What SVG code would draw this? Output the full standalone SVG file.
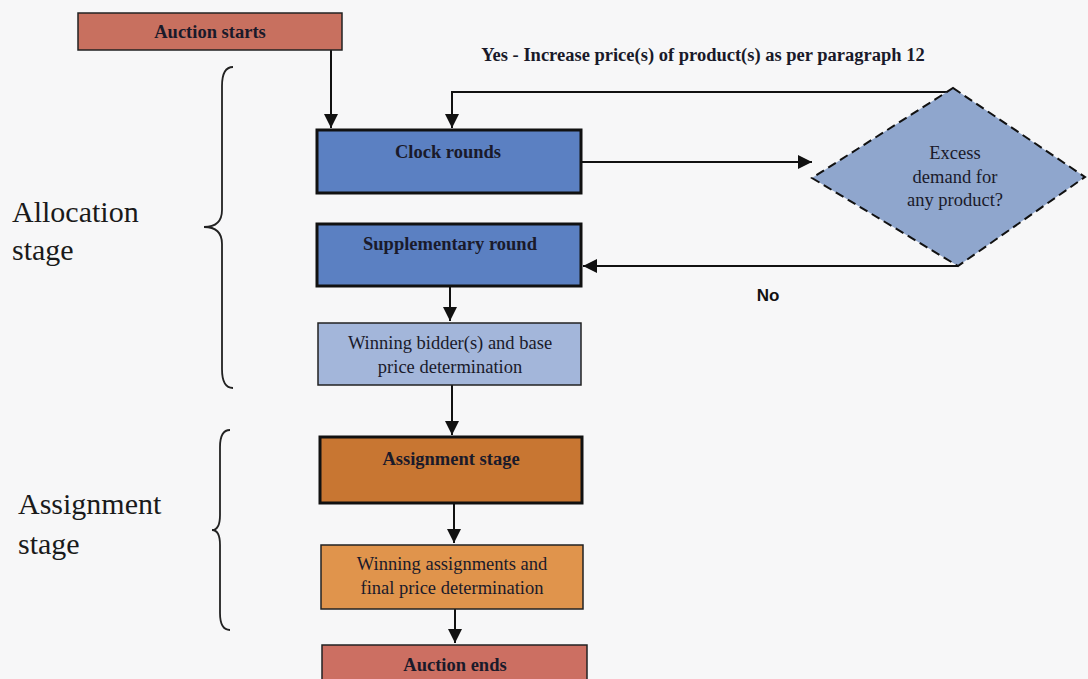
<svg xmlns="http://www.w3.org/2000/svg" width="1088" height="679" viewBox="0 0 1088 679">
<style>
.t{font-family:"Liberation Serif","Times New Roman",serif;fill:#1a1a2a;text-anchor:middle}
.b{font-weight:bold;font-size:18.5px}
.n{font-size:18.5px}
.big{font-family:"Liberation Serif","Times New Roman",serif;font-size:30px;fill:#1a1a1a}
.thick{stroke:#111;stroke-width:3}
.thin{stroke:#222;stroke-width:1.5}
.c{fill:none;stroke:#111;stroke-width:2}
.br{fill:none;stroke:#222;stroke-width:1.8}
</style>
<defs>
<marker id="ah2" viewBox="0 0 10 10" refX="10" refY="5" markerWidth="14" markerHeight="14" markerUnits="userSpaceOnUse" orient="auto">
<path d="M0,0 L10,5 L0,10 z" fill="#111"/>
</marker>
</defs>
<rect width="1088" height="679" fill="#f7f7f8"/>

<g id="connectors">
<path class="c" d="M331,50 V128" marker-end="url(#ah2)"/>
<path class="c" d="M951,92 H452 V128" marker-end="url(#ah2)"/>
<path class="c" d="M581,162 H812" marker-end="url(#ah2)"/>
<path class="c" d="M958,266 H583" marker-end="url(#ah2)"/>
<path class="c" d="M450,287 V321" marker-end="url(#ah2)"/>
<path class="c" d="M452,385 V435" marker-end="url(#ah2)"/>
<path class="c" d="M454,504 V543" marker-end="url(#ah2)"/>
<path class="c" d="M455,609 V643" marker-end="url(#ah2)"/>
<text class="t b" x="703" y="61">Yes - Increase price(s) of product(s) as per paragraph 12</text>
<text x="768" y="301" font-family="Liberation Sans, Arial, sans-serif" font-weight="bold" font-size="17" fill="#111" text-anchor="middle">No</text>
</g>

<g id="auction-starts">
<rect x="78" y="13" width="264" height="37" fill="#c8705f" class="thin"/>
<text class="t b" x="210" y="38">Auction starts</text>
</g>

<g id="clock-rounds">
<rect x="317" y="130" width="264" height="63" fill="#5b80c2" class="thick"/>
<text class="t b" x="448" y="158">Clock rounds</text>
</g>

<g id="supplementary-round">
<rect x="317" y="224" width="264" height="62" fill="#5b80c2" class="thick"/>
<text class="t b" x="450" y="250">Supplementary round</text>
</g>

<g id="winning-bidders">
<rect x="318" y="323" width="263" height="62" fill="#a3b6da" class="thin"/>
<text class="t n" x="450" y="349">Winning bidder(s) and base</text>
<text class="t n" x="450" y="373">price determination</text>
</g>

<g id="assignment-stage">
<rect x="320" y="437" width="262" height="66" fill="#c87632" class="thick"/>
<text class="t b" x="451" y="465">Assignment stage</text>
</g>

<g id="winning-assignments">
<rect x="321" y="545" width="262" height="64" fill="#e0944c" class="thin"/>
<text class="t n" x="452" y="570">Winning assignments and</text>
<text class="t n" x="452" y="594">final price determination</text>
</g>

<g id="auction-ends">
<rect x="322" y="645" width="265" height="40" fill="#cc6f62" class="thin"/>
<text class="t b" x="455" y="671">Auction ends</text>
</g>

<g id="excess-demand">
<polygon points="953,88 1085,177 958,266 812,178" fill="#8fa6cd" stroke="#111" stroke-width="2" stroke-dasharray="9,5"/>
<text class="t n" x="955" y="159">Excess</text>
<text class="t n" x="955" y="183">demand for</text>
<text class="t n" x="955" y="206">any product?</text>
</g>

<g id="allocation-label">
<path class="br" d="M233,67 Q222,67 222,86 L222,210 Q222,227 204,227 Q222,227 222,244 L222,369 Q222,388 233,388"/>
<text class="big" x="12" y="222">Allocation</text>
<text class="big" x="12" y="260">stage</text>
</g>

<g id="assignment-label">
<path class="br" d="M230,430 Q220,430 220,447 L220,515 Q220,530 212,530 Q220,530 220,545 L220,613 Q220,630 230,630"/>
<text class="big" x="18" y="514">Assignment</text>
<text class="big" x="18" y="554">stage</text>
</g>
</svg>
